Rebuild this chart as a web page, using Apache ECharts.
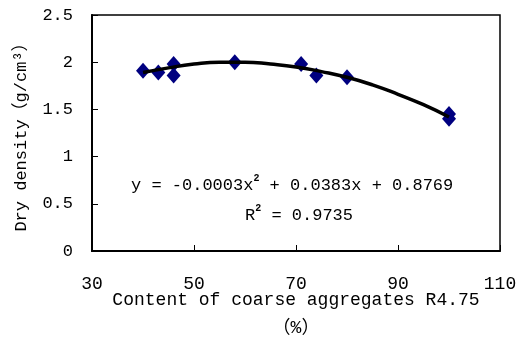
<!DOCTYPE html>
<html>
<head>
<meta charset="utf-8">
<script src="https://cdn.jsdelivr.net/npm/echarts@6/dist/echarts.min.js"></script>
<style>
  html, body { margin: 0; padding: 0; background: #fff; }
  #chart { width: 517px; height: 340px; }
</style>
</head>
<body>
<div id="chart"></div>
<script>
// measured points: [content %, dry density]
var points = [
    [40, 1.91], [43, 1.89], [46, 1.98], [46, 1.86], [58, 2.00],
    [71, 1.98], [74, 1.86], [80, 1.84], [100, 1.45], [100, 1.40]
];
// trend curve
var trend = [
    [40, 1.89], [45, 1.94], [50, 1.98], [55, 2.00], [60, 2.00], [65, 1.98], [70, 1.95],
    [75, 1.90], [80, 1.84], [85, 1.76], [90, 1.66], [95, 1.55], [100, 1.42]
];
var xTicks = [30, 50, 70, 90, 110];
var yTicks = [0, 0.5, 1, 1.5, 2, 2.5];

var font = '"Liberation Mono", "Noto Sans CJK SC", monospace';

var chart = echarts.init(document.getElementById('chart'));
chart.setOption({
    animation: false,
    textStyle: { fontFamily: font, color: '#000' },
    grid: {
        left: 92, right: 17, top: 15, bottom: 89,
        containLabel: false, outerBoundsMode: 'none',
        show: true, borderColor: '#000', borderWidth: 1.5, backgroundColor: 'transparent'
    },
    title: [{
        text: '{a|y = -0.0003x}{s|2}{a| + 0.0383x + 0.8769}',
        left: 131, top: 173, padding: 0,
        textStyle: {
            rich: {
                a: { fontFamily: font, fontSize: 17, color: '#000', fontWeight: 'normal' },
                s: { fontFamily: font, fontSize: 10, color: '#000', verticalAlign: 'top', padding: [0, 0, 14, 0] }
            }
        }
    }, {
        text: '{a|R}{s|2}{a| = 0.9735}',
        left: 245, top: 203, padding: 0,
        textStyle: {
            rich: {
                a: { fontFamily: font, fontSize: 17, color: '#000', fontWeight: 'normal' },
                s: { fontFamily: font, fontSize: 10, color: '#000', verticalAlign: 'top', padding: [0, 0, 14, 0] }
            }
        }
    }],
    xAxis: {
        type: 'value',
        min: xTicks[0], max: xTicks[xTicks.length - 1], interval: 20,
        name: 'Content of coarse aggregates R4.75\n（%）',
        nameLocation: 'middle', nameGap: 35, nameMoveOverlap: false,
        nameTextStyle: { fontFamily: font, fontSize: 18, lineHeight: 28, color: '#000' },
        axisLine: { lineStyle: { color: '#000', width: 2 } },
        axisTick: { inside: true, length: 6, lineStyle: { color: '#000' } },
        axisLabel: { margin: 24, fontFamily: font, fontSize: 18, color: '#000' },
        splitLine: { show: false }
    },
    yAxis: {
        type: 'value',
        min: yTicks[0], max: yTicks[yTicks.length - 1], interval: 0.5,
        name: 'Dry density（g/cm³）',
        nameLocation: 'middle', nameGap: 62, nameMoveOverlap: false,
        nameTextStyle: { fontFamily: font, fontSize: 17, color: '#000' },
        axisLine: { lineStyle: { color: '#000', width: 2 } },
        axisTick: { inside: true, length: 6, lineStyle: { color: '#000' } },
        axisLabel: { margin: 19, fontFamily: font, fontSize: 17, color: '#000' },
        splitLine: { show: false }
    },
    series: [{
        type: 'scatter',
        data: points,
        symbol: 'diamond',
        symbolSize: [14, 16],
        itemStyle: { color: '#000080', opacity: 1 },
        z: 2
    }, {
        type: 'line',
        data: trend,
        smooth: true,
        showSymbol: false,
        lineStyle: { color: '#000', width: 3.5 },
        z: 3
    }]
});
</script>
</body>
</html>
